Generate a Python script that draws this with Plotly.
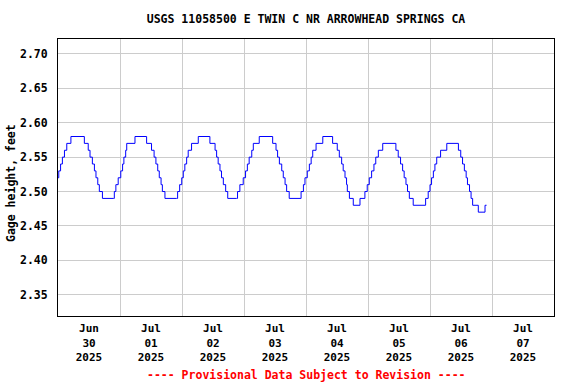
import datetime as dt
import plotly.graph_objects as go

# Change points: hours since 2025-06-30 00:00 and gage height (ft)
hours = [0, 0.3, 1.0, 1.7, 2.5, 3.4, 5.0, 10.2, 11.7, 12.4, 13.3, 14.1, 14.7, 15.4, 16.0, 17.2,
         21.4, 21.8, 22.4, 23.3, 24.3, 25.0, 25.5, 26.2, 26.6, 29.8, 34.3, 36.2, 37.2, 37.9, 38.6,
         39.2, 39.9, 40.4, 41.4, 45.9, 46.3, 47.1, 47.9, 48.5, 49.1, 49.8, 50.4, 51.7, 54.3, 58.8,
         60.8, 61.4, 62.0, 62.7, 63.3, 64.0, 64.9, 65.7, 69.1, 69.5, 70.4, 71.7, 72.6, 73.3, 74.0,
         75.0, 75.6, 77.9, 83.1, 84.4, 85.0, 85.7, 86.6, 87.2, 87.9, 88.5, 89.5, 93.7, 94.1, 95.0,
         95.6, 96.5, 97.3, 98.0, 98.6, 99.9, 102.5, 106.3, 108.1, 108.9, 109.8, 110.4, 111.1, 111.7,
         112.0, 112.8, 114.3, 116.9, 118.8, 119.7, 120.5, 121.4, 122.3, 123.0, 124.0, 125.7, 130.8,
         131.7, 132.6, 133.4, 134.0, 134.7, 135.3, 136.0, 137.5, 142.3, 143.3, 144.0, 144.6, 145.3,
         145.9, 146.6, 148.1, 150.5, 155.0, 155.9, 156.6, 157.3, 158.0, 158.5, 159.3, 159.9, 160.5,
         162.7, 165.3, 165.9]
gage_ft = [2.52, 2.53, 2.54, 2.55, 2.56, 2.57, 2.58, 2.57, 2.56, 2.55, 2.54, 2.53, 2.52, 2.51, 2.50, 2.49,
           2.49, 2.50, 2.51, 2.52, 2.53, 2.54, 2.55, 2.56, 2.57, 2.58, 2.57, 2.56, 2.55, 2.54, 2.53,
           2.52, 2.51, 2.50, 2.49, 2.49, 2.50, 2.51, 2.52, 2.53, 2.54, 2.55, 2.56, 2.57, 2.58, 2.57,
           2.56, 2.55, 2.54, 2.53, 2.52, 2.51, 2.50, 2.49, 2.49, 2.50, 2.51, 2.52, 2.53, 2.54, 2.55,
           2.56, 2.57, 2.58, 2.57, 2.56, 2.55, 2.54, 2.53, 2.52, 2.51, 2.50, 2.49, 2.49, 2.50, 2.51,
           2.52, 2.53, 2.54, 2.55, 2.56, 2.57, 2.58, 2.57, 2.56, 2.55, 2.54, 2.53, 2.52, 2.51,
           2.50, 2.49, 2.48, 2.49, 2.50, 2.51, 2.52, 2.53, 2.54, 2.55, 2.56, 2.57, 2.56,
           2.55, 2.54, 2.53, 2.52, 2.51, 2.50, 2.49, 2.48, 2.49, 2.50, 2.51, 2.52, 2.53,
           2.54, 2.55, 2.56, 2.57, 2.56, 2.55, 2.54, 2.53, 2.52, 2.51, 2.50, 2.49, 2.48,
           2.47, 2.48, 2.48]

start = dt.datetime(2025, 6, 30)
times = [start + dt.timedelta(hours=h) for h in hours]

y_ticks = [2.35, 2.40, 2.45, 2.50, 2.55, 2.60, 2.65, 2.70]
title_text = "USGS 11058500 E TWIN C NR ARROWHEAD SPRINGS CA"
y_title = "Gage height, feet"
footer_text = "---- Provisional Data Subject to Revision ----"

FONT = "DejaVu Sans Mono"

fig = go.Figure()
fig.add_trace(go.Scatter(x=times, y=gage_ft, mode="lines", line_shape="hv",
                         line=dict(color="#0000ff", width=1), hoverinfo="skip"))

fig.update_layout(
    width=576, height=384,
    margin=dict(l=58, r=22, t=39, b=68, autoexpand=False),
    paper_bgcolor="white", plot_bgcolor="white",
    showlegend=False,
    font=dict(family=FONT, size=11, color="black"),
    title=dict(text="<b>" + title_text + "</b>", x=306 / 576, xanchor="center",
               y=1 - 19 / 384, yanchor="middle", font=dict(family=FONT, size=11.5, color="black")),
    annotations=[
        dict(text="<b>" + footer_text + "</b>", xref="paper", yref="paper",
             x=0.5, y=-(375 - 316) / (316 - 39), xanchor="center", yanchor="middle",
             showarrow=False, font=dict(family=FONT, size=11.5, color="#ff0000")),
        dict(text="<b>" + y_title + "</b>", xref="paper", yref="paper", textangle=-90,
             x=-(58 - 11) / 496, y=(316 - 183) / (316 - 39), xanchor="center", yanchor="middle",
             showarrow=False, font=dict(family=FONT, size=11.5, color="black")),
    ],
)

fig.update_xaxes(
    type="date", automargin=False,
    range=[start, start + dt.timedelta(days=8)],
    tick0=start, dtick=86400000,
    ticklabelmode="period",
    tickformat="<b>%b</b><br><b>%d</b><br><b>%Y</b>",
    showgrid=True, gridcolor="#cccccc", gridwidth=1,
    showline=True, linecolor="black", linewidth=1, mirror=True,
    ticks="", zeroline=False, ticklabelstandoff=2,
    tickfont=dict(family=FONT, size=11, color="black"),
)
fig.update_yaxes(
    automargin=False,
    range=[2.319, 2.7218],
    tickvals=y_ticks, ticktext=["<b>%.2f</b>" % v for v in y_ticks],
    showgrid=True, gridcolor="#cccccc", gridwidth=1,
    showline=True, linecolor="black", linewidth=1, mirror=True,
    ticks="", zeroline=False, ticklabelstandoff=7,
    tickfont=dict(family=FONT, size=11.5, color="black"),
)

fig.write_html("out.html", config={"displayModeBar": False, "staticPlot": True},
               post_script="document.body.style.margin='0px';document.body.style.overflow='hidden';")
